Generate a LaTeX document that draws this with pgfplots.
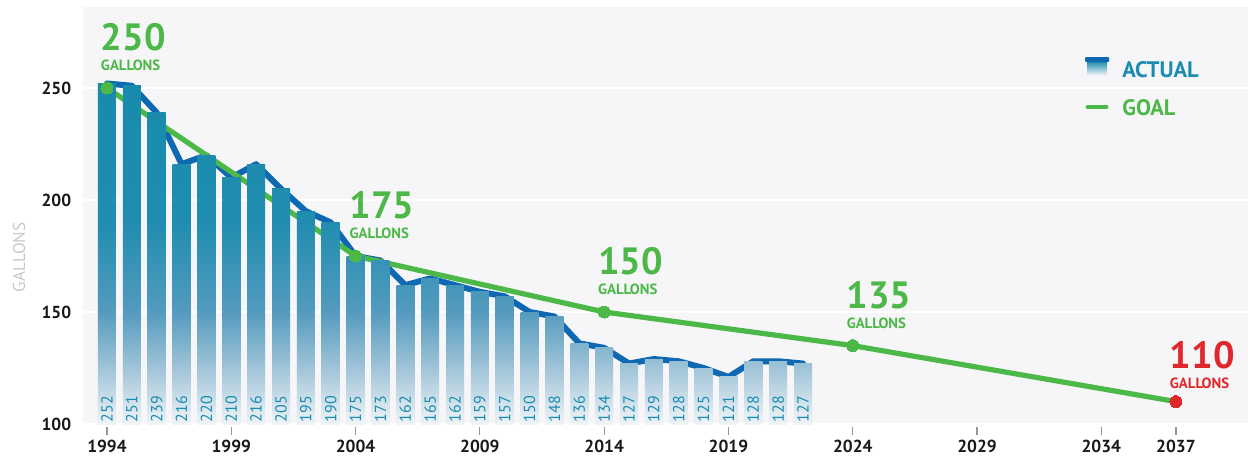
\documentclass[border=0pt]{standalone}
\usepackage{pgfplots}
\usepackage{pgfplotstable}
\pgfplotsset{compat=1.18}
\usepackage{fontspec}
\setmainfont{PT Sans}
\usetikzlibrary{calc}
\definecolor{bggrey}{RGB}{246,245,247}
\definecolor{cA}{RGB}{24,139,172}
\definecolor{cB}{RGB}{32,141,176}
\definecolor{cC}{RGB}{84,155,190}
\definecolor{cD}{RGB}{160,196,216}
\definecolor{cE}{RGB}{240,244,248}
\definecolor{blueline}{RGB}{14,104,178}
\definecolor{goalgreen}{RGB}{76,184,72}
\definecolor{goalred}{RGB}{224,40,44}
\definecolor{labteal}{RGB}{26,140,176}
\definecolor{ticktext}{RGB}{25,25,25}
\definecolor{ylabgrey}{RGB}{200,200,200}
\definecolor{tickgrey}{RGB}{150,150,150}
% global vertical gradient: shaded rectangle spans 100..300 (224pt), mapped to 25bp..75bp
\pgfdeclareverticalshading{barshade}{100bp}{color(0bp)=(cE); color(25bp)=(cE); color(31.25bp)=(cD); color(37.5bp)=(cC); color(47.5bp)=(cB); color(62.5bp)=(cA); color(100bp)=(cA)}
% bar drawn as a mark hanging from the data point down to y=100
\pgfdeclareplotmark{gbar}{%
  \pgfscope
  \pgfpathrectangle{\pgfpoint{-4.5pt}{-(\valy-100)*1.12pt}}{\pgfpoint{9pt}{(\valy-100)*1.12pt}}%
  \pgfusepath{clip}%
  \pgfpathrectangle{\pgfpoint{-4.5pt}{-(\valy-100)*1.12pt}}{\pgfpoint{9pt}{224pt}}%
  \pgfshadepath{barshade}{0}%
  \pgfusepath{discard}%
  \endpgfscope
}
\pgfkeys{/pgf/number format/.cd, assume math mode=true, 1000 sep={}}
\pgfplotstableread{
year val
1994 252
1995 251
1996 239
1997 216
1998 220
1999 210
2000 216
2001 205
2002 195
2003 190
2004 175
2005 173
2006 162
2007 165
2008 162
2009 159
2010 157
2011 150
2012 148
2013 136
2014 134
2015 127
2016 129
2017 128
2018 125
2019 121
2020 128
2021 128
2022 127
}\actual
\pgfplotstableread{
year val
1994 250
2004 175
2014 150
2024 135
2037 110
}\goal
\newcommand{\goallabel}{\vbox{\offinterlineskip\hbox{\bfseries\fontsize{19}{20}\selectfont\pgfmathprintnumber{\pgfplotspointmeta}}\kern4.5pt\hbox{\bfseries\fontsize{7.4}{8}\selectfont GALLONS}}}
\begin{document}
\begin{tikzpicture}
\begin{axis}[
  scale only axis, width=582.5pt, height=208.5pt,
  xmin=1993.035, xmax=2039.9, ymin=100, ymax=286.16,
  axis lines*=left, axis line style={draw=none},
  axis background/.style={fill=bggrey},
  ytick={100,150,200,250}, ymajorgrids, grid style={white, line width=1pt},
  ytick style={draw=none},
  xtick={1994,1999,2004,2009,2014,2019,2024,2029,2034,2037},
  xtick align=outside, major tick length=4pt,
  xtick style={draw=tickgrey, line width=0.6pt, yshift=-1.5pt},
  ticklabel style={font=\bfseries\fontsize{8.7}{10}\selectfont, text=ticktext, /pgf/number format/1000 sep={}},
  xticklabel style={inner sep=0pt, anchor=north, yshift=-4pt},
  yticklabel style={inner sep=0pt, anchor=east, xshift=-5.7pt},
  ylabel={GALLONS},
  every axis y label/.style={at={(rel axis cs:0,0.40)}, xshift=-32pt, rotate=90, anchor=center, font=\fontsize{8.6}{10}\selectfont, text=ylabgrey},
  clip=false,
]
% bars (gradient marks hanging down to 100) with value labels at the base
\addplot[only marks, mark=gbar,
  visualization depends on={y \as \valy},
  nodes near coords, point meta=y,
  every node near coord/.append style={yshift={-(\valy-100)*1.12pt+0.75pt}, rotate=90, anchor=west, inner sep=0pt, text=labteal, font=\fontsize{8}{9}\selectfont},
] table[x=year,y=val] {\actual};
% actual line
\addplot[blueline, line width=3pt, line join=round, line cap=round, mark=none] table[x=year,y=val] {\actual};
% goal line
\addplot[goalgreen, line width=2.6pt, line join=round, mark=none] table[x=year,y=val] {\goal};
% goal marks green
\addplot[goalgreen, only marks, mark=*, mark size=3pt, mark options={fill=goalgreen, draw=goalgreen, line width=0pt},
  restrict x to domain=1990:2030,
  nodes near coords={\goallabel}, point meta=y,
  every node near coord/.append style={anchor=south west, inner sep=0pt, xshift=-3pt, yshift=8.5pt, text=goalgreen},
] table[x=year,y=val] {\goal};
% goal mark red
\addplot[goalred, only marks, mark=*, mark size=3pt, mark options={fill=goalred, draw=goalred, line width=0pt},
  restrict x to domain=2030:2040,
  nodes near coords={\goallabel}, point meta=y,
  every node near coord/.append style={anchor=south west, inner sep=0pt, xshift=-3pt, yshift=6.5pt, text=goalred},
] table[x=year,y=val] {\goal};
% legend
\shade[top color=cA, bottom color=cE] (rel axis cs:0.8618,0.8369) rectangle (rel axis cs:0.8790,0.870);
\fill[blueline, rounded corners=0.5pt] (rel axis cs:0.8601,0.8681) rectangle (rel axis cs:0.8807,0.8801);
\node[anchor=west, inner sep=0pt, text=labteal, font=\bfseries\fontsize{11.2}{12}\selectfont] at (rel axis cs:0.8918,0.8501) {ACTUAL};
\draw[goalgreen, line width=2.3pt, line cap=round] (rel axis cs:0.8625,0.7602) -- (rel axis cs:0.8783,0.7602);
\node[anchor=west, inner sep=0pt, text=goalgreen, font=\bfseries\fontsize{11.2}{12}\selectfont] at (rel axis cs:0.8918,0.7578) {GOAL};
\end{axis}
\pgfresetboundingbox
\path[use as bounding box] ($(current axis.south west)+(-41.5pt,-16pt)$) rectangle ($(current axis.north east)+(0pt,3.5pt)$);
\end{tikzpicture}
\end{document}
